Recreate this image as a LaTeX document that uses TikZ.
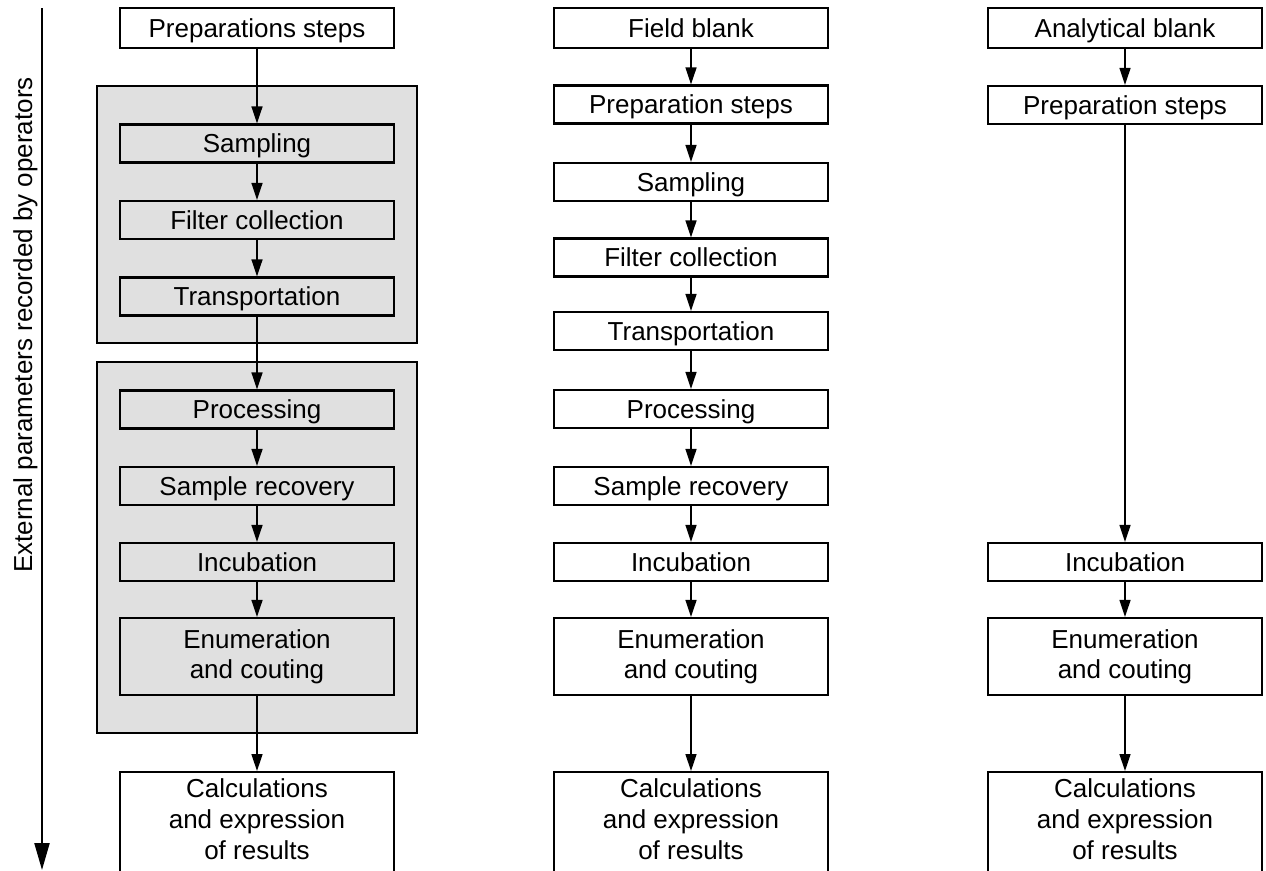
\documentclass[tikz,border=0pt]{standalone}
\usepackage{fontspec}
\setmainfont{Liberation Sans}
\usetikzlibrary{arrows.meta}
\begin{document}
\begin{tikzpicture}[x=1pt,y=-1pt,
  box/.style={draw, line width=2.2pt, minimum width=274pt, inner sep=0pt,
    font=\fontsize{26}{30}\selectfont, align=center},
  one/.style={box, minimum height=38pt, text height=19pt, text depth=1pt},
  topbox/.style={one, minimum height=40pt},
  two/.style={box, minimum height=77pt},
  calcbox/.style={draw, line width=2.2pt, minimum width=274pt, minimum height=200pt, anchor=north, inner sep=0pt},
  calctext/.style={font=\fontsize{26}{31}\selectfont, align=center, inner sep=0pt},
  shade/.style={draw, line width=2.8pt, fill=black!12, inner sep=0pt},
  conn/.style={line width=1.5pt, -{Triangle[length=17pt,width=11pt]}},
]
\useasboundingbox (0,0) rectangle (1266,870);
\clip (0,0) rectangle (1266,870);

% shaded groups
\node[shade, minimum width=320pt, minimum height=257pt] (g1) at (257,214.5) {};
\node[shade, minimum width=320pt, minimum height=371pt] (g2) at (257,547.5) {};

% left column
\node[topbox] (lprep) at (257,28) {Preparations steps};
\node[one] (lsamp) at (257,143.5) {Sampling};
\node[one] (lfilt) at (257,220) {Filter collection};
\node[one] (ltrans) at (257,296.5) {Transportation};
\node[one] (lproc) at (257,409.5) {Processing};
\node[one] (lrec) at (257,486) {Sample recovery};
\node[one] (linc) at (257,562) {Incubation};
\node[two] (lenum) at (257,656.5) {Enumeration\\and couting};
\node[calcbox] (lcalc) at (257,771) {};
\node[calctext] (lcalct) at (257,819.5) {Calculations\\and expression\\of results};

% centre column
\node[topbox] (cfb) at (691,28) {Field blank};
\node[one] (cprep) at (691,104.5) {Preparation steps};
\node[one] (csamp) at (691,182) {Sampling};
\node[one] (cfilt) at (691,257.5) {Filter collection};
\node[one] (ctrans) at (691,331) {Transportation};
\node[one] (cproc) at (691,409) {Processing};
\node[one] (crec) at (691,486) {Sample recovery};
\node[one] (cinc) at (691,562) {Incubation};
\node[two] (cenum) at (691,656.5) {Enumeration\\and couting};
\node[calcbox] (ccalc) at (691,771) {};
\node[calctext] (ccalct) at (691,819.5) {Calculations\\and expression\\of results};

% right column
\node[topbox] (rab) at (1125,28) {Analytical blank};
\node[one] (rprep) at (1125,105) {Preparation steps};
\node[one] (rinc) at (1125,562) {Incubation};
\node[two] (renum) at (1125,656.5) {Enumeration\\and couting};
\node[calcbox] (rcalc) at (1125,771) {};
\node[calctext] (rcalct) at (1125,819.5) {Calculations\\and expression\\of results};

% connectors left
\draw[conn] (lprep.south) -- (lsamp.north);
\draw[conn] (lsamp.south) -- (lfilt.north);
\draw[conn] (lfilt.south) -- (ltrans.north);
\draw[conn] (ltrans.south) -- (lproc.north);
\draw[conn] (lproc.south) -- (lrec.north);
\draw[conn] (lrec.south) -- (linc.north);
\draw[conn] (linc.south) -- (lenum.north);
\draw[conn] (lenum.south) -- (lcalc.north);

% connectors centre
\draw[conn] (cfb.south) -- (cprep.north);
\draw[conn] (cprep.south) -- (csamp.north);
\draw[conn] (csamp.south) -- (cfilt.north);
\draw[conn] (cfilt.south) -- (ctrans.north);
\draw[conn] (ctrans.south) -- (cproc.north);
\draw[conn] (cproc.south) -- (crec.north);
\draw[conn] (crec.south) -- (cinc.north);
\draw[conn] (cinc.south) -- (cenum.north);
\draw[conn] (cenum.south) -- (ccalc.north);

% connectors right
\draw[conn] (rab.south) -- (rprep.north);
\draw[conn] (rprep.south) -- (rinc.north);
\draw[conn] (rinc.south) -- (renum.north);
\draw[conn] (renum.south) -- (rcalc.north);

% time axis
\coordinate (atop) at (42,8);
\coordinate (abot) at (42,870);
\draw[line width=2.2pt, -{Triangle[length=27pt,width=15pt]}] (atop) -- (abot);
\node[rotate=90, anchor=base, inner sep=0pt, font=\fontsize{26}{30}\selectfont] (lbl) at (32,325) {External parameters recorded by operators};
\end{tikzpicture}
\end{document}
